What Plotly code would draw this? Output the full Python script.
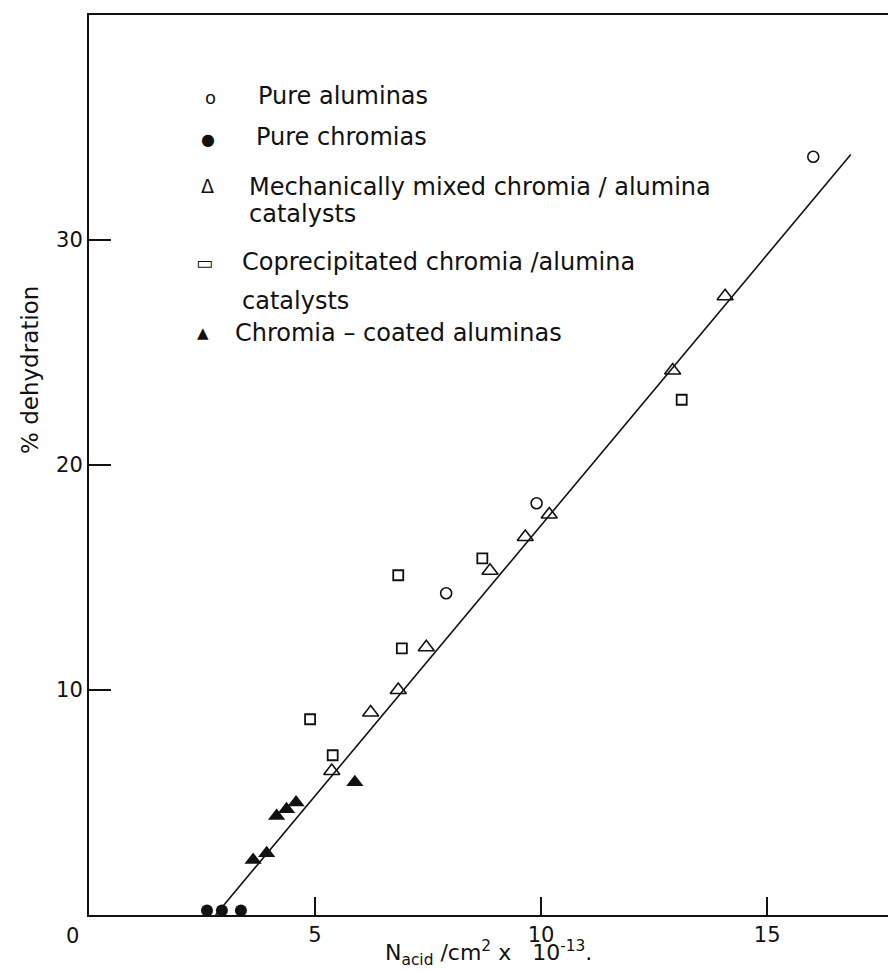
import plotly.graph_objects as go

# ---- data ----
alumina_x = [7.90, 9.90, 16.02]
alumina_y = [14.3, 18.3, 33.7]

chromia_x = [2.61, 2.94, 3.36]
chromia_y = [0.2, 0.2, 0.2]

mech_x = [5.37, 6.23, 6.84, 7.46, 8.87, 9.65, 10.18, 12.91, 14.07]
mech_y = [6.4, 9.0, 10.0, 11.9, 15.3, 16.8, 17.8, 24.2, 27.5]

copr_x = [4.89, 5.39, 6.84, 6.92, 8.70, 13.11]
copr_y = [8.7, 7.1, 15.1, 11.85, 15.85, 22.9]

coated_x = [3.63, 3.93, 4.15, 4.37, 4.58, 5.88]
coated_y = [2.45, 2.75, 4.4, 4.7, 5.0, 5.9]

fit_x = [2.80, 16.85]
fit_y = [0.0, 33.8]

x_ticks = [5, 10, 15]
y_ticks = [10, 20, 30]

legend_lines = [
    "Pure aluminas",
    "Pure chromias",
    "Mechanically mixed chromia / alumina",
    "catalysts",
    "Coprecipitated chromia /alumina",
    "catalysts",
    "Chromia \u2013 coated aluminas",
]
legend_syms = ["o", "\u25CF", "\u0394", "\u25AD", "\u25B2"]

FONT = "DejaVu Sans"
BLACK = "#111111"

fig = go.Figure()

fig.add_trace(go.Scatter(x=fit_x, y=fit_y, mode="lines",
                         line=dict(color=BLACK, width=1.6), showlegend=False))
fig.add_trace(go.Scatter(x=alumina_x, y=alumina_y, mode="markers",
                         marker=dict(symbol="circle-open", size=11,
                                     color=BLACK, line=dict(width=1.6)),
                         showlegend=False))
fig.add_trace(go.Scatter(x=chromia_x, y=chromia_y, mode="markers",
                         marker=dict(symbol="circle", size=12, color=BLACK),
                         showlegend=False))
fig.add_trace(go.Scatter(x=mech_x, y=mech_y, mode="markers",
                         marker=dict(symbol="triangle-up-open", size=14,
                                     color=BLACK, line=dict(width=1.6)),
                         showlegend=False))
fig.add_trace(go.Scatter(x=copr_x, y=copr_y, mode="markers",
                         marker=dict(symbol="square-open", size=10,
                                     color=BLACK, line=dict(width=1.8)),
                         showlegend=False))
fig.add_trace(go.Scatter(x=coated_x, y=coated_y, mode="markers",
                         marker=dict(symbol="triangle-up", size=15, color=BLACK),
                         showlegend=False))

annotations = []

# page has an 8px body margin: figure is drawn from (8, 8)
OFF = 8
W, H = 896 - OFF, 971 - OFF
ml, mr, mt, mb = 89 - OFF, 0, 15 - OFF, 56
pw, ph = W - ml - mr, H - mt - mb


def px(xs):
    return (xs - OFF - ml) / pw


def py(ys):
    return 1 - (ys - OFF - mt) / ph


sym_pos = [(210, 97), (208, 140), (207, 186), (204, 262), (203, 333)]
sym_size = [18, 16, 19, 18, 15]
text_pos = [(256, 96), (254, 137), (247, 187), (247, 214),
            (240, 262), (240, 301), (233, 333)]
for s, (sx, sy), fs in zip(legend_syms, sym_pos, sym_size):
    annotations.append(dict(x=px(sx), y=py(sy), xref="paper", yref="paper",
                            text=s, showarrow=False, xanchor="center",
                            yanchor="middle",
                            font=dict(family=FONT, size=fs, color=BLACK)))
for t, (tx, ty) in zip(legend_lines, text_pos):
    annotations.append(dict(x=px(tx), y=py(ty), xref="paper", yref="paper",
                            text=t, showarrow=False, xanchor="left",
                            yanchor="middle", align="left",
                            font=dict(family=FONT, size=24, color=BLACK)))

# origin label
annotations.append(dict(x=0, y=0, xref="x", yref="y", text="0",
                        showarrow=False, xshift=-17, yshift=-21,
                        font=dict(family=FONT, size=21, color=BLACK)))

# axis titles
annotations.append(dict(x=px(488), y=py(953), xref="paper", yref="paper",
                        text="N<sub>acid</sub> /cm<sup>2</sup> x   10<sup>-13</sup>.",
                        showarrow=False, xanchor="center", yanchor="middle",
                        font=dict(family=FONT, size=22, color=BLACK)))
annotations.append(dict(x=px(30), y=py(370), xref="paper", yref="paper",
                        text="% dehydration", textangle=-90,
                        showarrow=False, xanchor="center", yanchor="middle",
                        font=dict(family=FONT, size=23, color=BLACK)))

fig.update_layout(
    width=W, height=H,
    margin=dict(l=ml, r=mr, t=mt, b=mb, pad=0),
    plot_bgcolor="white", paper_bgcolor="white",
    font=dict(family=FONT, size=21, color=BLACK),
    annotations=annotations,
    xaxis=dict(range=[0, 17.85], showgrid=False, zeroline=False,
               showline=True, linecolor=BLACK, linewidth=2, mirror=True,
               ticks="inside", ticklen=18, tickwidth=1.5, tickcolor=BLACK,
               tickvals=x_ticks, ticktext=[str(v) for v in x_ticks],
               tickfont=dict(family=FONT, size=21, color=BLACK)),
    yaxis=dict(range=[0, 40], showgrid=False, zeroline=False,
               showline=True, linecolor=BLACK, linewidth=2,
               ticks="inside", ticklen=22, tickwidth=1.5, tickcolor=BLACK,
               tickvals=y_ticks, ticktext=[str(v) for v in y_ticks],
               tickfont=dict(family=FONT, size=21, color=BLACK)),
)

fig.write_html("out.html")
